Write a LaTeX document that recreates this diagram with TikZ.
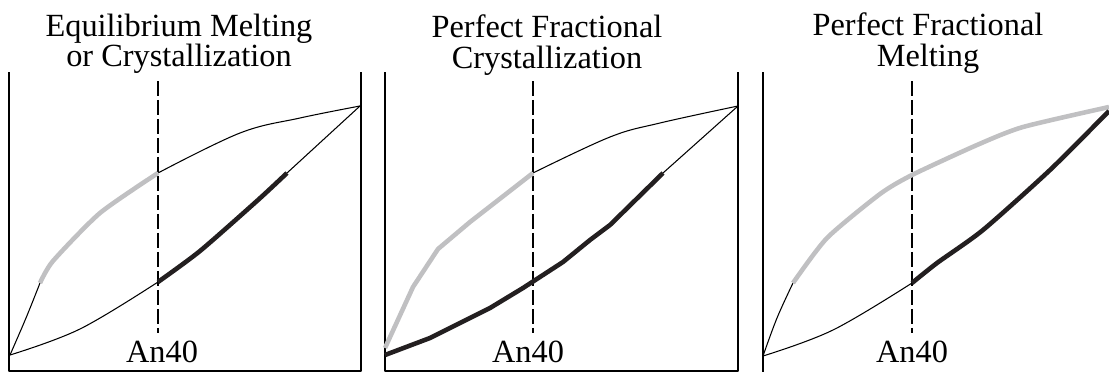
\documentclass[tikz,border=0pt]{standalone}
\usepackage{fontspec}
\setmainfont{Liberation Serif}
\usepackage{xcolor}
\usepackage{tikz}
\definecolor{liqgray}{RGB}{192,192,194}
\definecolor{solblack}{RGB}{35,31,32}
\newcommand{\captfont}{\fontsize{18.4}{17.2}\selectfont}
% sides and floor of one box
\newcommand{\phasebox}[2]{%
  \draw[wall] (#1,72) -- (#1,371) -- (#2,371) -- (#2,72);}

\begin{document}
\begin{tikzpicture}[x=0.02cm,y=-0.02cm,line join=round,
    wall/.style={line width=0.6pt},
    curve/.style={line width=0.6pt},
    isopleth/.style={line width=0.6pt,dash pattern=on 0.3cm off 0.08cm},
    liqpath/.style={line width=2.6pt,liqgray},
    solpath/.style={line width=2.6pt,solblack},
    headtext/.style={align=center,font=\captfont,inner sep=0pt},
    antext/.style={font=\captfont,inner sep=0pt,anchor=base}]
  \useasboundingbox (0,0) rectangle (1109,372);

  \phasebox{9}{361}
  \phasebox{385}{738}
  \draw[wall] (763,72) -- (763,372);
  \foreach \xd in {158,533,912}
    \draw[isopleth] (\xd,81) -- (\xd,333);

  % equilibrium
  \node[headtext] (title1) at (179,43.5) {Equilibrium Melting\\or Crystallization};
  \draw[curve] plot[smooth,tension=0.6] coordinates {(10,355) (26,318) (40,283)};
  \draw[curve] plot[smooth,tension=0.6] coordinates {(158,173) (240,133) (300,118) (360,106)};
  \draw[curve] plot[smooth,tension=0.6] coordinates {(10,355) (80,329) (158,282)};
  \draw[curve] (287,173) -- (360,106);
  \draw[liqpath] plot[smooth,tension=0.4] coordinates {(40,283) (53,261) (100,213) (158,173)};
  \draw[solpath] plot[smooth,tension=0.4] coordinates {(158,282) (200,251) (258,200) (287,173)};
  \node[antext] (an1) at (162,362) {An40};

  % fractional crystallization
  \node[headtext] (title2) at (547,45) {Perfect Fractional\\Crystallization};
  \draw[curve] plot[smooth,tension=0.6] coordinates {(533,173) (610,137) (660,123) (738,106)};
  \draw[curve] (663,173) -- (738,106);
  \draw[liqpath] (385,348) -- (413,287) -- (438,249) -- (470,222) -- (533,173);
  \draw[solpath] (385,355) -- (430,338) -- (490,308) -- (523,288) -- (563,262)
    -- (590,240) -- (610,225) -- (663,173);
  \node[antext] (an2) at (528,362) {An40};

  % fractional melting
  \node[headtext] (title3) at (928,43) {Perfect Fractional\\Melting};
  \draw[curve] plot[smooth,tension=0.6] coordinates {(763,356) (777,318) (793,283)};
  \draw[curve] plot[smooth,tension=0.6] coordinates {(763,356) (833,330) (912,283)};
  \draw[liqpath] plot[smooth,tension=0.4] coordinates {(793,283) (827,238) (880,194)
    (912,175) (977,145) (1023,127) (1109,107)};
  \draw[solpath] plot[smooth,tension=0.4] coordinates {(912,283) (937,263) (983,230)
    (1050,170) (1109,111)};
  \node[antext] (an3) at (912,362) {An40};
\end{tikzpicture}
\end{document}
